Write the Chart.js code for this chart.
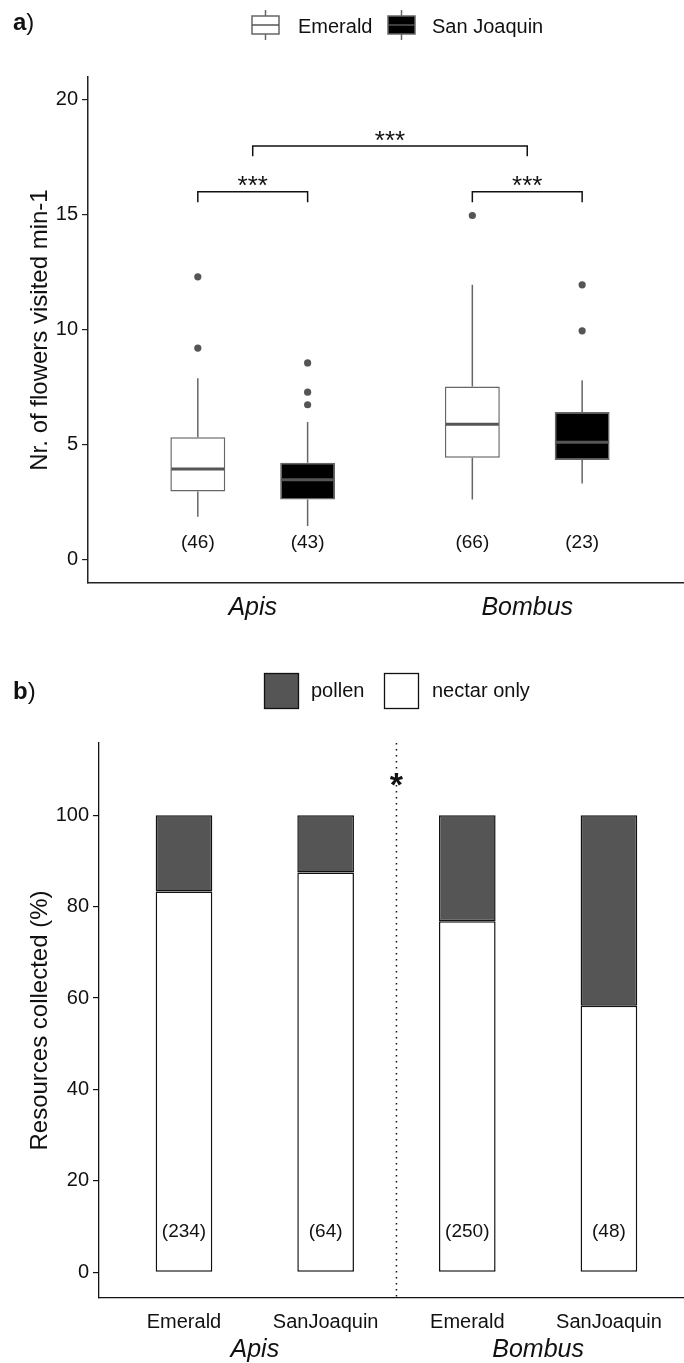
<!DOCTYPE html>
<html>
<head>
<meta charset="utf-8">
<script src="https://cdn.jsdelivr.net/npm/chart.js@4.4.1/dist/chart.umd.min.js"></script>
<style>
  html, body { margin: 0; padding: 0; background: #fff; }
  #panelA { position: absolute; left: 0; top: 0; width: 684px; height: 640px; }
  #panelB { position: absolute; left: 0; top: 640px; width: 684px; height: 723px; }
</style>
</head>
<body>
<div id="panelA"><canvas id="chartA"></canvas></div>
<div id="panelB"><canvas id="chartB"></canvas></div>
<script>
// ---- panel a: flowers visited per minute (box plots) ----
const genera = ["Apis", "Bombus"];
const varieties = ["Emerald", "San Joaquin"];
// order of boxes: Apis-Emerald, Apis-San Joaquin, Bombus-Emerald, Bombus-San Joaquin
const whiskerLow = [1.85, 1.45, 2.6, 3.3];
const q1 = [2.95, 2.6, 4.42, 4.33];
const median = [3.93, 3.46, 5.88, 5.1];
const q3 = [5.32, 4.2, 7.52, 6.42];
const whiskerHigh = [7.88, 5.98, 11.95, 7.8];
const outliers = [[9.2, 12.3], [6.73, 7.28, 8.55], [14.97], [9.95, 11.95]];
const nVisits = [46, 43, 66, 23];
const yTicksA = [0, 5, 10, 15, 20];
const sigLabels = ["***", "***", "***"]; // Apis pair, Bombus pair, Apis vs Bombus

// ---- panel b: resources collected (%) ----
const cultivars = ["Emerald", "SanJoaquin", "Emerald", "SanJoaquin"];
const nectarOnly = [83.3, 87.5, 76.8, 58.3];
const pollen = [16.7, 12.5, 23.2, 41.7];
const nForagers = [234, 64, 250, 48];
const yTicksB = [0, 20, 40, 60, 80, 100];
const sigB = "*";

const FONT = "'Liberation Sans', Arial, Helvetica, sans-serif";
Chart.defaults.font.family = FONT;
Chart.defaults.color = "#111";

// box x positions: genus index + dodge
const boxX = [];
genera.forEach((g, gi) => varieties.forEach((v, vi) => boxX.push(gi + 1 + (vi === 0 ? -0.2 : 0.2))));

function boxGlyph(ctx, cx, cy, fill) {
  ctx.save();
  ctx.strokeStyle = "#666";
  ctx.lineWidth = 1.5;
  ctx.beginPath();
  ctx.moveTo(cx, cy - 15); ctx.lineTo(cx, cy + 15);
  ctx.stroke();
  ctx.fillStyle = fill;
  ctx.fillRect(cx - 13.5, cy - 9, 27, 18);
  ctx.strokeRect(cx - 13.5, cy - 9, 27, 18);
  ctx.strokeStyle = "#555";
  ctx.beginPath();
  ctx.moveTo(cx - 13.5, cy); ctx.lineTo(cx + 13.5, cy);
  ctx.stroke();
  ctx.restore();
}

function bracket(ctx, x, y, x0, x1, yv, tip, label, size) {
  const px0 = x.getPixelForValue(x0), px1 = x.getPixelForValue(x1);
  const py = y.getPixelForValue(yv), pt = y.getPixelForValue(yv - tip);
  ctx.strokeStyle = "#111";
  ctx.lineWidth = 1.5;
  ctx.beginPath();
  ctx.moveTo(px0, pt); ctx.lineTo(px0, py); ctx.lineTo(px1, py); ctx.lineTo(px1, pt);
  ctx.stroke();
  ctx.fillStyle = "#111";
  ctx.font = size + "px " + FONT;
  ctx.textAlign = "center";
  ctx.textBaseline = "alphabetic";
  ctx.fillText(label, (px0 + px1) / 2, py + 0.1 * size);
}

const boxExtras = {
  id: "boxExtras",
  afterDatasetsDraw(chart) {
    const { ctx, scales: { x, y } } = chart;
    ctx.save();
    boxX.forEach((bx, k) => {
      const bar = chart.getDatasetMeta(k % 2).data[Math.floor(k / 2)];
      const half = bar.width / 2;
      const px = x.getPixelForValue(bx);
      ctx.strokeStyle = "#666";
      ctx.lineWidth = 1.5;
      ctx.beginPath();
      ctx.moveTo(px, y.getPixelForValue(whiskerLow[k])); ctx.lineTo(px, y.getPixelForValue(q1[k]));
      ctx.moveTo(px, y.getPixelForValue(q3[k])); ctx.lineTo(px, y.getPixelForValue(whiskerHigh[k]));
      ctx.stroke();
      const pm = y.getPixelForValue(median[k]);
      ctx.strokeStyle = "#555";
      ctx.lineWidth = 3;
      ctx.beginPath();
      ctx.moveTo(px - half + 1, pm); ctx.lineTo(px + half - 1, pm);
      ctx.stroke();
      ctx.fillStyle = "#111";
      ctx.font = "19px " + FONT;
      ctx.textAlign = "center";
      ctx.textBaseline = "middle";
      ctx.fillText("(" + nVisits[k] + ")", px, y.getPixelForValue(0.74));
    });
    bracket(ctx, x, y, boxX[0], boxX[1], 16, 0.45, sigLabels[0], 26);
    bracket(ctx, x, y, boxX[2], boxX[3], 16, 0.45, sigLabels[1], 26);
    bracket(ctx, x, y, 1, 2, 18, 0.45, sigLabels[2], 26);
    ctx.restore();
  },
  afterDraw(chart) {
    const ctx = chart.ctx;
    ctx.save();
    ctx.fillStyle = "#111";
    ctx.textBaseline = "middle";
    ctx.textAlign = "left";
    ctx.font = "bold 24px " + FONT;
    ctx.fillText("a", 13, 23);
    const wa = ctx.measureText("a").width;
    ctx.font = "24px " + FONT;
    ctx.fillText(")", 13 + wa, 23);
    boxGlyph(ctx, 265.5, 25, "#fff");
    boxGlyph(ctx, 401.5, 25, "#000");
    ctx.font = "20px " + FONT;
    ctx.fillStyle = "#111";
    ctx.fillText(varieties[0], 298, 27);
    ctx.fillText(varieties[1], 432, 27);
    ctx.restore();
  }
};

new Chart(document.getElementById("chartA"), {
  type: "bar",
  data: {
    datasets: varieties.map((v, vi) => ({
      label: v,
      data: genera.map((g, gi) => {
        const k = gi * 2 + vi;
        return { x: boxX[k], y: [q1[k], q3[k]] };
      }),
      backgroundColor: vi === 0 ? "#fff" : "#000",
      borderColor: "#666",
      borderWidth: 1.5,
      borderSkipped: false,
      grouped: false,
      barPercentage: 0.5,
      categoryPercentage: 1
    })).concat([{
      type: "scatter",
      label: "outliers",
      data: outliers.flatMap((list, k) => list.map(v => ({ x: boxX[k], y: v }))),
      pointRadius: 3.6,
      pointBackgroundColor: "#555",
      pointBorderWidth: 0
    }])
  },
  options: {
    animation: false,
    responsive: true,
    maintainAspectRatio: false,
    layout: { autoPadding: false, padding: { top: 77, right: 0, bottom: 0, left: 0 } },
    plugins: { legend: { display: false }, tooltip: { enabled: false } },
    scales: {
      x: {
        type: "linear",
        min: 0.4,
        max: 2.571,
        offset: false,
        afterBuildTicks: s => { s.ticks = genera.map((g, i) => ({ value: i + 1 })); },
        afterFit: s => { s.height = 57; },
        ticks: {
          callback: v => genera[v - 1],
          font: { size: 25, style: "italic" },
          color: "#111",
          padding: 10,
          autoSkip: false,
          maxRotation: 0
        },
        grid: { display: false, drawTicks: false },
        border: { color: "#222", width: 1.5 }
      },
      y: {
        min: -1.03,
        max: 21,
        afterBuildTicks: s => { s.ticks = yTicksA.map(v => ({ value: v })); },
        afterFit: s => { s.width = 88; },
        ticks: { font: { size: 20 }, color: "#111", padding: 4 },
        grid: { drawOnChartArea: false, drawTicks: true, tickLength: 6, color: "#222", lineWidth: 1.2 },
        border: { color: "#222", width: 1.5 },
        title: {
          display: true,
          text: "Nr. of flowers visited min-1",
          font: { size: 24 },
          color: "#111",
          padding: { top: 26, bottom: 0 }
        }
      }
    }
  },
  plugins: [boxExtras]
});

// ---- panel b ----
const barExtras = {
  id: "barExtras",
  afterDatasetsDraw(chart) {
    const { ctx, chartArea, scales: { x, y } } = chart;
    ctx.save();
    const dx = x.getPixelForValue(2.5);
    ctx.strokeStyle = "#111";
    ctx.lineWidth = 1.5;
    ctx.setLineDash([1.5, 4.5]);
    ctx.beginPath();
    ctx.moveTo(dx, chartArea.top); ctx.lineTo(dx, chartArea.bottom);
    ctx.stroke();
    ctx.setLineDash([]);
    ctx.fillStyle = "#111";
    ctx.textAlign = "center";
    ctx.textBaseline = "alphabetic";
    ctx.font = "bold 34px " + FONT;
    ctx.fillText(sigB, dx, y.getPixelForValue(108.3) + 19);
    ctx.textBaseline = "middle";
    ctx.font = "19px " + FONT;
    nForagers.forEach((n, i) => {
      ctx.fillText("(" + n + ")", x.getPixelForValue(i + 1), y.getPixelForValue(8.8));
    });
    ctx.restore();
  },
  afterDraw(chart) {
    const ctx = chart.ctx;
    ctx.save();
    ctx.fillStyle = "#111";
    ctx.textBaseline = "middle";
    ctx.textAlign = "left";
    ctx.font = "bold 24px " + FONT;
    ctx.fillText("b", 13, 52);
    const wb = ctx.measureText("b").width;
    ctx.font = "24px " + FONT;
    ctx.fillText(")", 13 + wb, 52);
    ctx.lineWidth = 1.3;
    ctx.strokeStyle = "#111";
    ctx.fillStyle = "#555";
    ctx.fillRect(264.5, 33.5, 34, 35);
    ctx.strokeRect(264.5, 33.5, 34, 35);
    ctx.fillStyle = "#fff";
    ctx.fillRect(384.5, 33.5, 34, 35);
    ctx.strokeRect(384.5, 33.5, 34, 35);
    ctx.fillStyle = "#111";
    ctx.font = "20px " + FONT;
    ctx.fillText("pollen", 311, 51);
    ctx.fillText("nectar only", 432, 51);
    ctx.restore();
  }
};

const barStyle = {
  borderColor: "#111",
  borderWidth: 1.5,
  borderSkipped: false,
  stack: "res",
  barPercentage: 0.4,
  categoryPercentage: 1
};

new Chart(document.getElementById("chartB"), {
  type: "bar",
  data: {
    datasets: [
      Object.assign({ label: "nectar only", data: nectarOnly.map((v, i) => ({ x: i + 1, y: v })), backgroundColor: "#fff" }, barStyle),
      Object.assign({ label: "pollen", data: pollen.map((v, i) => ({ x: i + 1, y: v })), backgroundColor: "#555" }, barStyle)
    ]
  },
  options: {
    animation: false,
    responsive: true,
    maintainAspectRatio: false,
    layout: { autoPadding: false, padding: { top: 103, right: 0, bottom: 0, left: 0 } },
    plugins: { legend: { display: false }, tooltip: { enabled: false } },
    scales: {
      x: {
        type: "linear",
        stacked: true,
        min: 0.4,
        max: 4.53,
        offset: false,
        weight: 0,
        afterBuildTicks: s => { s.ticks = cultivars.map((c, i) => ({ value: i + 1 })); },
        afterFit: s => { s.height = 38; },
        ticks: {
          callback: v => cultivars[v - 1],
          font: { size: 20 },
          color: "#111",
          padding: 12,
          autoSkip: false,
          maxRotation: 0
        },
        grid: { display: false, drawTicks: false },
        border: { color: "#111", width: 1.3 }
      },
      x2: {
        type: "linear",
        position: "bottom",
        min: 0.4,
        max: 4.53,
        offset: false,
        weight: 1,
        afterBuildTicks: s => { s.ticks = genera.map((g, i) => ({ value: 1.5 + 2 * i })); },
        afterFit: s => { s.height = 27; },
        ticks: {
          callback: v => genera[(v - 1.5) / 2],
          font: { size: 25, style: "italic" },
          color: "#111",
          padding: -1,
          autoSkip: false,
          maxRotation: 0
        },
        grid: { display: false, drawTicks: false },
        border: { display: false }
      },
      y: {
        stacked: true,
        min: -5.6,
        max: 115.8,
        afterBuildTicks: s => { s.ticks = yTicksB.map(v => ({ value: v })); },
        afterFit: s => { s.width = 99; },
        ticks: { font: { size: 20 }, color: "#111", padding: 4 },
        grid: { drawOnChartArea: false, drawTicks: true, tickLength: 6, color: "#111", lineWidth: 1.2 },
        border: { color: "#111", width: 1.3 },
        title: {
          display: true,
          text: "Resources collected (%)",
          font: { size: 24 },
          color: "#111",
          padding: { top: 26, bottom: 0 }
        }
      }
    }
  },
  plugins: [barExtras]
});
</script>
</body>
</html>
